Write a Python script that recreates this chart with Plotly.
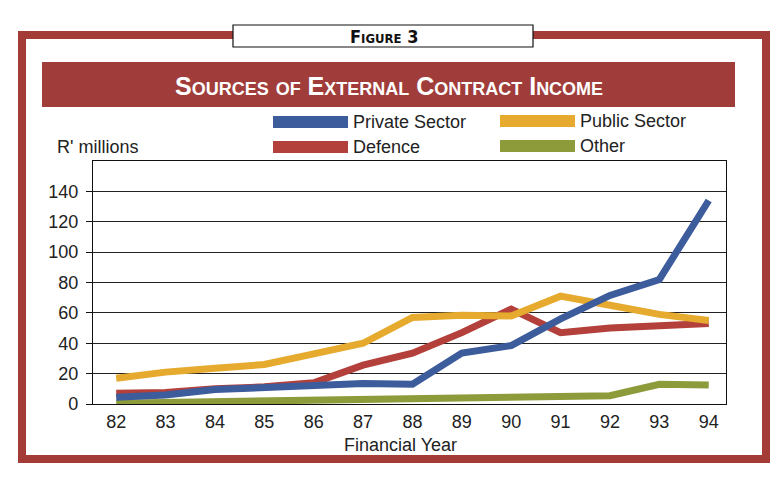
import plotly.graph_objects as go

# ---- data ----
years = [82, 83, 84, 85, 86, 87, 88, 89, 90, 91, 92, 93, 94]
private_sector = [4.5, 6, 9.5, 11, 12, 13.5, 13, 33.5, 38.5, 56, 71.5, 82, 134]
defence = [7, 7.5, 10, 11.3, 14, 25.6, 33.5, 47, 62.5, 47, 50, 52, 53]
public_sector = [17, 21, 23.5, 26, 33, 40, 57, 58.5, 58, 71, 65, 59, 55]
other = [0.5, 1, 1.5, 2, 2.5, 3, 3.5, 4, 4.5, 5, 5.5, 13, 12.5]
y_ticks = [0, 20, 40, 60, 80, 100, 120, 140]
series_names = ["Private Sector", "Defence", "Public Sector", "Other"]

title_text = "Sources of External Contract Income"
figure_label = "Figure 3"
y_label = "R' millions"
x_label = "Financial Year"

# ---- styles ----
C_BLUE = "#3d5c9c"
C_RED = "#b3403a"
C_ORANGE = "#e6aa2e"
C_GREEN = "#8e9b3a"
C_FRAME = "#a33b37"
C_BANNER = "#a03d3a"
TXT = "#222222"
FONT = "Liberation Sans, Arial, Helvetica, sans-serif"

W, H = 773, 480
L, R, T, B = 93, 726, 161, 404  # plot area in pixels


def px(x):
    return (x - L) / (R - L)


def py(y):
    return (B - y) / (B - T)


fig = go.Figure()

trace_specs = [
    (other, "Other", C_GREEN),
    (defence, "Defence", C_RED),
    (public_sector, "Public Sector", C_ORANGE),
    (private_sector, "Private Sector", C_BLUE),
]
for vals, name, col in trace_specs:
    fig.add_trace(go.Scatter(x=years, y=vals, name=name, mode="lines",
                             line=dict(color=col, width=7), showlegend=False))

shapes = []
annotations = []

# outer red frame
shapes.append(dict(type="rect", xref="paper", yref="paper",
                   x0=px(22), x1=px(766), y0=py(459), y1=py(35),
                   line=dict(color=C_FRAME, width=8), fillcolor="rgba(0,0,0,0)",
                   layer="below"))
# title banner
shapes.append(dict(type="rect", xref="paper", yref="paper",
                   x0=px(42), x1=px(735), y0=py(107), y1=py(62),
                   line=dict(width=0), fillcolor=C_BANNER, layer="above"))
# figure label box
shapes.append(dict(type="rect", xref="paper", yref="paper",
                   x0=px(233), x1=px(533), y0=py(47), y1=py(25),
                   line=dict(color="#111111", width=1.2), fillcolor="white",
                   layer="above"))

# legend swatches + labels
legend_pos = {
    "Private Sector": (273, 122, C_BLUE),
    "Defence": (273, 147, C_RED),
    "Public Sector": (500, 121, C_ORANGE),
    "Other": (500, 146, C_GREEN),
}
for name in series_names:
    x0, yc, col = legend_pos[name]
    shapes.append(dict(type="rect", xref="paper", yref="paper",
                       x0=px(x0), x1=px(x0 + 75), y0=py(yc + 6), y1=py(yc - 6),
                       line=dict(width=0), fillcolor=col, layer="above"))
    annotations.append(dict(xref="paper", yref="paper", x=px(x0 + 78), y=py(yc),
                            xanchor="left", yanchor="middle", showarrow=False,
                            text=name, font=dict(family=FONT, size=18, color=TXT)))

annotations.append(dict(xref="paper", yref="paper", x=px(389), y=py(86),
                        xanchor="center", yanchor="middle", showarrow=False,
                        text=title_text,
                        font=dict(family=FONT, size=25, color="white",
                                  weight=700, variant="small-caps")))
annotations.append(dict(xref="paper", yref="paper", x=px(384), y=py(36),
                        xanchor="center", yanchor="middle", showarrow=False,
                        text=figure_label,
                        font=dict(family="Liberation Sans Narrow, DejaVu Sans Condensed, Arial Narrow, sans-serif",
                                  size=18, color="#111111", weight=700,
                                  variant="small-caps")))
annotations.append(dict(xref="paper", yref="paper", x=px(55), y=py(147),
                        xanchor="left", yanchor="middle", showarrow=False,
                        text=y_label, font=dict(family=FONT, size=18, color=TXT)))
annotations.append(dict(xref="paper", yref="paper", x=px(400), y=py(445),
                        xanchor="center", yanchor="middle", showarrow=False,
                        text=x_label, font=dict(family=FONT, size=18, color=TXT)))

fig.update_layout(
    width=W, height=H,
    margin=dict(l=L, r=W - R, t=T, b=H - B, pad=0),
    paper_bgcolor="white", plot_bgcolor="white",
    shapes=shapes, annotations=annotations,
    font=dict(family=FONT, color=TXT),
    xaxis=dict(range=[81.53, 94.35], tickvals=years,
               ticktext=[str(y) for y in years], showgrid=False, zeroline=False,
               showline=True, linecolor="#111111", linewidth=1.3, mirror=True,
               ticks="", ticklabelstandoff=1,
               tickfont=dict(family=FONT, size=18, color=TXT)),
    yaxis=dict(range=[0, 160], tickvals=y_ticks, showgrid=True,
               gridcolor="#222222", gridwidth=1.2, zeroline=False,
               showline=True, linecolor="#111111", linewidth=1.3, mirror=True,
               ticks="outside", ticklen=6, tickcolor="#111111", tickwidth=1.2,
               ticklabelstandoff=4,
               tickfont=dict(family=FONT, size=18, color=TXT)),
)

fig.write_html("out.html")
